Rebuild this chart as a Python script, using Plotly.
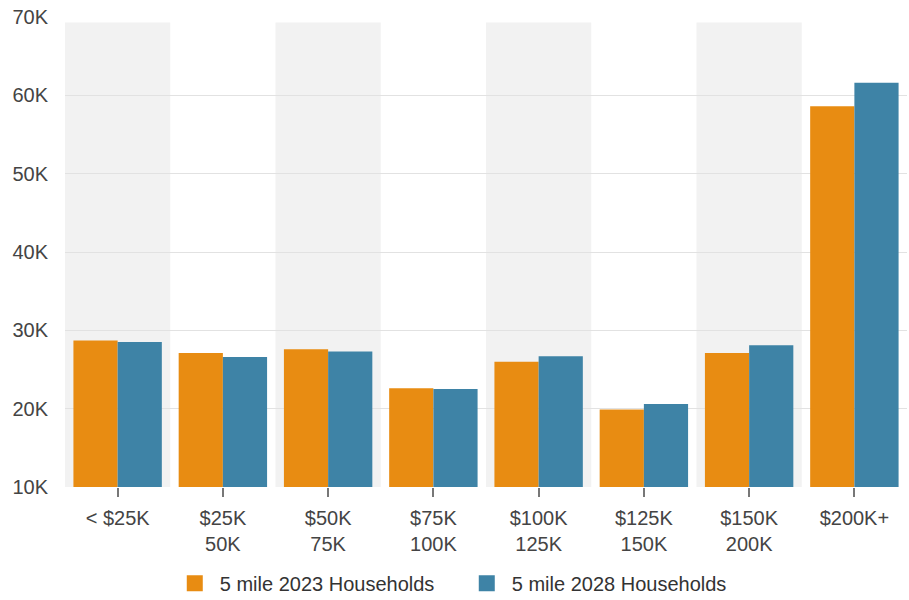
import plotly.graph_objects as go

categories = ["< $25K", "$25K<br>50K", "$50K<br>75K", "$75K<br>100K", "$100K<br>125K",
              "$125K<br>150K", "$150K<br>200K", "$200K+"]
hh_2023 = [28700, 27100, 27600, 22600, 26000, 19900, 27100, 58600]
hh_2028 = [28500, 26600, 27300, 22500, 26700, 20600, 28100, 61600]
series_names = ["5 mile 2023 Households", "5 mile 2028 Households"]
y_tickvals = [10000, 20000, 30000, 40000, 50000, 60000, 70000]
y_ticktext = ["10K", "20K", "30K", "40K", "50K", "60K", "70K"]

orange = "#E88C12"
blue = "#3E83A6"

fig = go.Figure()
fig.add_trace(go.Bar(x=categories, y=hh_2023, name=series_names[0], showlegend=False,
                     marker=dict(color=orange, line=dict(width=0))))
fig.add_trace(go.Bar(x=categories, y=hh_2028, name=series_names[1], showlegend=False,
                     marker=dict(color=blue, line=dict(width=0))))
# legend entries with larger square swatches
for name, col in zip(series_names, [orange, blue]):
    fig.add_trace(go.Scatter(x=[None], y=[None], mode="markers", name=name,
                             marker=dict(symbol="square", size=20, color=col)))

shapes = []
for i in range(0, len(categories), 2):
    shapes.append(dict(type="rect", xref="x", yref="y", x0=i - 0.5, x1=i + 0.5,
                       y0=10000, y1=69300, fillcolor="#F2F2F2", line=dict(width=0),
                       layer="below"))

fig.update_layout(
    width=909, height=600,
    margin=dict(l=65, r=2, t=17, b=113),
    paper_bgcolor="white", plot_bgcolor="white",
    barmode="group", bargap=0.16, bargroupgap=0,
    font=dict(family="Liberation Sans, Arial, sans-serif", size=20, color="#444"),
    shapes=shapes,
    showlegend=True,
    legend=dict(orientation="h", xref="container", yref="container", x=0.508, y=0.028,
                xanchor="center", yanchor="middle", font=dict(size=20, color="#333"),
                itemwidth=40, traceorder="normal", entrywidth=237, entrywidthmode="pixels"),
    xaxis=dict(type="category", categoryorder="array", categoryarray=categories,
               range=[-0.5, len(categories) - 0.5], showgrid=False, zeroline=False,
               ticks="outside", ticklen=9, tickwidth=2, tickcolor="#777",
               ticklabelstandoff=4,
               showline=False, tickfont=dict(size=20, color="#444")),
    yaxis=dict(range=[10000, 70000], tickvals=y_tickvals, ticktext=y_ticktext,
               showgrid=True, gridcolor="#E2E2E2", gridwidth=1, zeroline=False,
               ticks="", ticklabelstandoff=16, tickfont=dict(size=20, color="#444")),
)

fig.write_html("out.html")
